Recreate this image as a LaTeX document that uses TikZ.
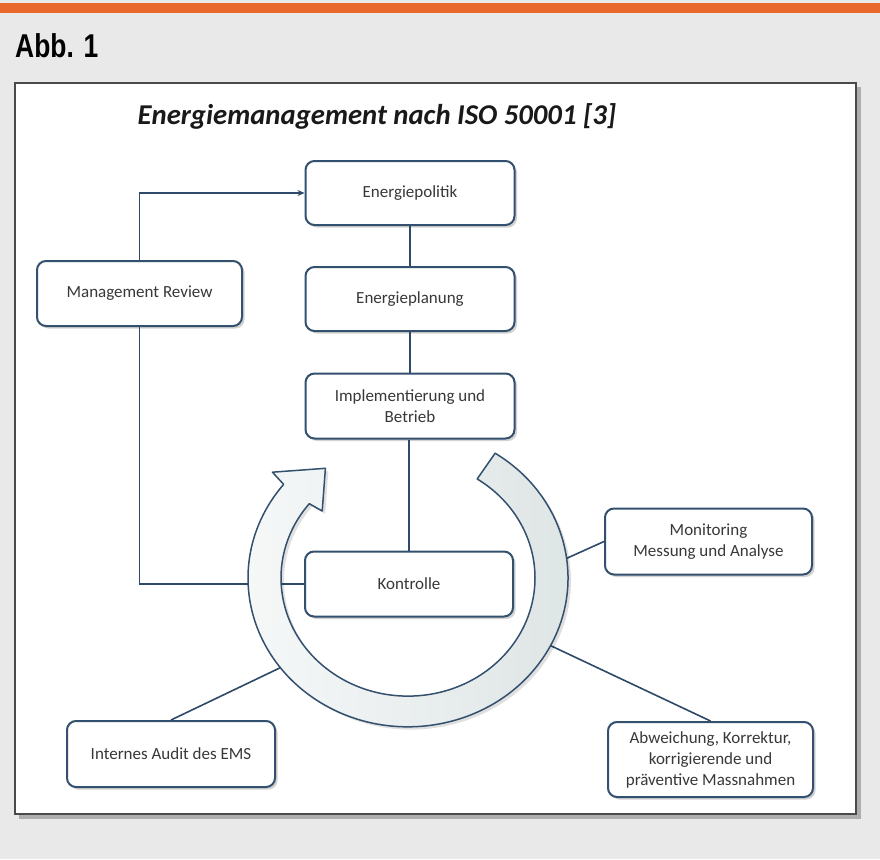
\documentclass[tikz,border=0pt]{standalone}
\usepackage{fontspec}
\setmainfont{Carlito}
\newfontfamily\abbfont{Liberation Sans}
\usetikzlibrary{shadows,arrows.meta}
\definecolor{bgc}{HTML}{E9E9E9}
\definecolor{orangec}{HTML}{E8672A}
\definecolor{framec}{HTML}{4A4A4A}
\definecolor{boxc}{HTML}{33506E}
\definecolor{linec}{HTML}{2E4A68}
\definecolor{txtc}{HTML}{383838}
\definecolor{ringA}{HTML}{F6F8F8}
\definecolor{ringB}{HTML}{DDE4E4}
\tikzset{
  box/.style={draw=boxc, line width=2pt, rounded corners=9pt, fill=white,
    align=center, text=txtc, font=\fontsize{17}{21}\selectfont,
    drop shadow={shadow xshift=2.5pt, shadow yshift=-2.5pt, opacity=0.35, fill=gray}},
  conn/.style={draw=linec, line width=1.6pt},
}
\begin{document}
\begin{tikzpicture}[x=1pt,y=-1pt]
\useasboundingbox (0,0) rectangle (880,859);
\fill[bgc] (0,0) rectangle (880,859);
\fill[orangec] (0,3) rectangle (880,13);
\node[anchor=base west, inner sep=0pt] (abb) at (15,58)
  {\scalebox{0.8}[1]{\abbfont\bfseries\fontsize{33}{33}\selectfont Abb. 1}};
% frame
\fill[black, opacity=0.25] (19,87) rectangle (861,819);
\fill[white, draw=framec, line width=1.6pt] (15,83) rectangle (856,814);
\node[anchor=base, inner sep=0pt, text=black!90] (title) at (377,124)
  {\fontsize{28.7}{31}\selectfont\bfseries\itshape Energiemanagement nach ISO 50001 [3]};
% nodes
\node[box, minimum width=209pt, minimum height=64pt] (pol) at (410,193) {Energiepolitik};
\node[box, minimum width=209pt, minimum height=64pt] (plan) at (410,299) {Energieplanung};
\node[box, minimum width=209pt, minimum height=65pt] (impl) at (410,406) {Implementierung und\\Betrieb};
\node[box, minimum width=208pt, minimum height=65pt] (kon) at (409,584) {Kontrolle};
\node[box, minimum width=205pt, minimum height=65pt] (mr) at (139.5,293.5) {Management Review};
\node[box, minimum width=207pt, minimum height=66pt] (mon) at (708.5,541.5) {Monitoring\\Messung und Analyse};
\node[box, minimum width=205pt, minimum height=75pt] (abw) at (710.5,759.5) {Abweichung, Korrektur,\\korrigierende und\\pr\"aventive Massnahmen};
\node[box, minimum width=208pt, minimum height=66pt] (aud) at (171,754) {Internes Audit des EMS};
% ring anchor coordinates
\coordinate (rmon) at (555,563.6);
\coordinate (rabw) at (545,643);
\coordinate (raud) at (288,664);
% connectors
\draw[conn] (pol.south) -- (plan.north);
\draw[conn] (plan.south) -- (impl.north);
\draw[conn] (impl.south -| kon.north) -- (kon.north);
\draw[conn] (kon.west) -| (mr.south);
\draw[conn, -{Stealth[length=7pt,width=6pt]}] (mr.north) |- (pol.west);
\draw[conn] (rmon) -- (mon.west);
\draw[conn] (rabw) -- (abw.north);
\draw[conn] (raud) -- (aud.north);
% circular arrow
\begin{scope}[shift={(408,578)}, yscale=0.93]
\fill[black, opacity=0.12, shift={(3,3)}]
  (-57:160) arc[start angle=-57, end angle=219, radius=160]
  -- (220:177) -- (235:144) -- (220:112) -- (219:127)
  arc[start angle=219, end angle=-57, radius=127] -- cycle;
\draw[draw=boxc, line width=1.5pt, left color=ringA, right color=ringB, line join=round]
  (-57:160) arc[start angle=-57, end angle=219, radius=160]
  -- (220:177) -- (235:144) -- (220:112) -- (219:127)
  arc[start angle=219, end angle=-57, radius=127] -- cycle;
\end{scope}
\end{tikzpicture}
\end{document}
